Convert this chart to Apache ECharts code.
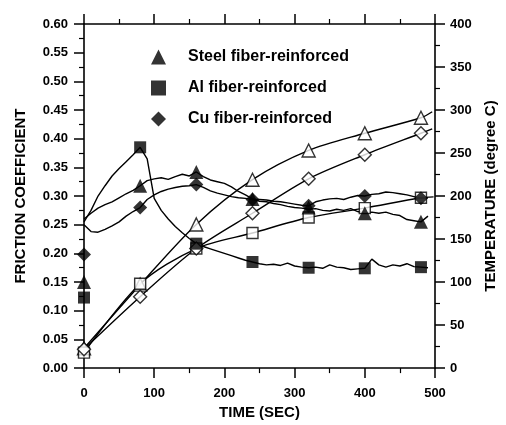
<!DOCTYPE html>
<html>
<head>
<meta charset="utf-8">
<script src="https://cdn.jsdelivr.net/npm/echarts@6/dist/echarts.min.js"></script>
<style>
  html, body { margin: 0; padding: 0; background: #fff; }
  #main { width: 506px; height: 425px; }
</style>
</head>
<body>
<div id="main"></div>
<script>
// time axis of the friction traces (sec)
var tMu = [0, 10, 20, 30, 40, 50, 60, 70, 80, 90, 100, 110, 120, 130, 140, 150, 160, 170, 180, 190,
           200, 210, 220, 230, 240, 250, 260, 270, 280, 290, 300, 310, 320, 330, 340, 350, 360, 370, 380, 390,
           400, 410, 420, 430, 440, 450, 460, 470, 480, 490];

// friction coefficient traces
var steelMu = [0.26, 0.27, 0.279, 0.285, 0.29, 0.297, 0.304, 0.31, 0.318, 0.327, 0.33, 0.332, 0.329, 0.334, 0.338, 0.335, 0.342, 0.334, 0.328, 0.325,
               0.322, 0.316, 0.308, 0.302, 0.295, 0.291, 0.29, 0.287, 0.285, 0.282, 0.28, 0.279, 0.277, 0.278, 0.275, 0.274, 0.277, 0.275, 0.278, 0.273,
               0.27, 0.272, 0.27, 0.272, 0.268, 0.266, 0.259, 0.257, 0.255, 0.265];
var alMu = [0.255, 0.275, 0.3, 0.318, 0.335, 0.348, 0.36, 0.372, 0.385, 0.365, 0.296, 0.275, 0.26, 0.247, 0.236, 0.226, 0.217, 0.212, 0.208, 0.204,
            0.2, 0.196, 0.192, 0.188, 0.185, 0.182, 0.18, 0.181, 0.179, 0.183, 0.178, 0.176, 0.175, 0.176, 0.174, 0.18, 0.176, 0.175, 0.172, 0.173,
            0.174, 0.19, 0.18, 0.176, 0.18, 0.178, 0.182, 0.177, 0.176, 0.175];
var cuMu = [0.25, 0.238, 0.237, 0.242, 0.248, 0.255, 0.265, 0.273, 0.28, 0.294, 0.302, 0.308, 0.312, 0.315, 0.317, 0.318, 0.32, 0.315, 0.309, 0.305,
            0.302, 0.299, 0.297, 0.296, 0.294, 0.294, 0.293, 0.291, 0.29, 0.288, 0.286, 0.284, 0.283, 0.29, 0.293, 0.295, 0.296, 0.294, 0.298, 0.301,
            0.3, 0.303, 0.304, 0.307, 0.306, 0.304, 0.302, 0.299, 0.296, 0.297];

// marker positions
var tMark = [0, 80, 160, 240, 320, 400, 480];
var steelMuMark = [0.15, 0.318, 0.342, 0.295, 0.28, 0.27, 0.255];
var alMuMark = [0.123, 0.385, 0.217, 0.185, 0.175, 0.174, 0.176];
var cuMuMark = [0.198, 0.28, 0.32, 0.294, 0.283, 0.3, 0.296];

// temperature (degree C)
var steelTMark = [23, 97, 167, 219, 253, 273, 291];
var alTMark = [18, 98, 139, 157, 175, 186, 198];
var cuTMark = [22, 83, 139, 180, 220, 248, 273];
var tSteelT = [0, 80, 160, 240, 320, 400, 480, 496];
var steelT = [23, 97, 167, 219, 253, 273, 291, 298];
var tAlT = [0, 80, 160, 240, 320, 400, 480, 498];
var alT = [18, 98, 139, 157, 175, 186, 198, 199];
var tCuT = [0, 80, 160, 240, 320, 400, 480, 496];
var cuT = [22, 83, 139, 180, 220, 248, 273, 278];

var names = ['Steel fiber-reinforced', 'Al fiber-reinforced', 'Cu fiber-reinforced'];

function pairs(xs, ys) {
  var out = [];
  for (var i = 0; i < xs.length; i++) out.push([xs[i], ys[i]]);
  return out;
}

var font = 'Liberation Sans, Arial, sans-serif';

function lineSeries(name, xs, ys, axis, smooth) {
  return {
    name: name, type: 'line', yAxisIndex: axis, data: pairs(xs, ys),
    showSymbol: false, smooth: smooth, silent: true,
    lineStyle: { color: '#000', width: 1.4 }
  };
}
function markSeries(name, xs, ys, axis, symbol, size, open) {
  return {
    name: name, type: 'scatter', yAxisIndex: axis, data: pairs(xs, ys),
    symbol: symbol, symbolSize: size, clip: false, z: open ? 4 : 5,
    itemStyle: open ? { color: '#fff', borderColor: '#000', borderWidth: 1.4 } : { color: '#000' }
  };
}

var myChart = echarts.init(document.getElementById('main'));
var tickOut = { show: true, length: 10, lineStyle: { color: '#000', width: 1.5 } };
var minorOut = { show: true, splitNumber: 2, length: 5, lineStyle: { color: '#000', width: 1.2 } };
var axLine = { show: true, onZero: false, lineStyle: { color: '#000', width: 1.6 } };
var lab = { color: '#000', fontFamily: font, fontWeight: 'bold', fontSize: 13 };

var option = {
  animation: false,
  backgroundColor: '#fff',
  grid: { left: 84, right: 68, top: 24, bottom: 50 },
  legend: {
    orient: 'vertical', left: 146, top: 44, itemWidth: 15, itemHeight: 15, itemGap: 15,
    textStyle: { color: '#000', fontFamily: font, fontWeight: 'bold', fontSize: 16, padding: [0, 0, 0, 17] },
    data: [
      { name: names[0], icon: 'triangle' },
      { name: names[1], icon: 'rect' },
      { name: names[2], icon: 'diamond' }
    ]
  },
  xAxis: [{
    type: 'value', min: 0, max: 500, interval: 100, position: 'bottom',
    name: 'TIME (SEC)', nameLocation: 'middle', nameGap: 32,
    nameTextStyle: { color: '#000', fontFamily: font, fontWeight: 'bold', fontSize: 15 },
    axisLine: axLine, axisTick: tickOut, minorTick: minorOut,
    axisLabel: Object.assign({ margin: 19 }, lab), splitLine: { show: false }
  }, {
    type: 'value', min: 0, max: 500, interval: 100, position: 'top',
    axisLine: axLine, axisTick: tickOut, minorTick: minorOut,
    axisLabel: { show: false }, splitLine: { show: false }
  }],
  yAxis: [{
    type: 'value', min: 0, max: 0.6, interval: 0.05, position: 'left',
    name: 'FRICTION COEFFICIENT', nameLocation: 'middle', nameGap: 56,
    nameTextStyle: { color: '#000', fontFamily: font, fontWeight: 'bold', fontSize: 15 },
    axisLine: axLine, axisTick: tickOut, minorTick: minorOut,
    axisLabel: Object.assign({ margin: 16, formatter: function (v) { return v.toFixed(2); } }, lab),
    splitLine: { show: false }
  }, {
    type: 'value', min: 0, max: 400, interval: 50, position: 'right',
    name: 'TEMPERATURE (degree C)', nameLocation: 'middle', nameGap: 48, nameRotate: 90,
    nameTextStyle: { color: '#000', fontFamily: font, fontWeight: 'bold', fontSize: 15 },
    axisLine: axLine, axisTick: tickOut, minorTick: minorOut,
    axisLabel: Object.assign({ margin: 15 }, lab), splitLine: { show: false }
  }],
  series: [
    lineSeries('steelMu', tMu, steelMu, 0, false),
    lineSeries('alMu', tMu, alMu, 0, false),
    lineSeries('cuMu', tMu, cuMu, 0, false),
    lineSeries('steelT', tSteelT, steelT, 1, 0.3),
    lineSeries('alT', tAlT, alT, 1, 0.3),
    lineSeries('cuT', tCuT, cuT, 1, 0.3),
    markSeries('steelTMark', tMark, steelTMark, 1, 'triangle', 13, true),
    markSeries('alTMark', tMark, alTMark, 1, 'rect', 11, true),
    markSeries('cuTMark', tMark, cuTMark, 1, 'diamond', 13, true),
    markSeries(names[0], tMark, steelMuMark, 0, 'triangle', 14, false),
    markSeries(names[1], tMark, alMuMark, 0, 'rect', 12, false),
    markSeries(names[2], tMark, cuMuMark, 0, 'diamond', 14, false)
  ]
};
myChart.setOption(option);
</script>
</body>
</html>
